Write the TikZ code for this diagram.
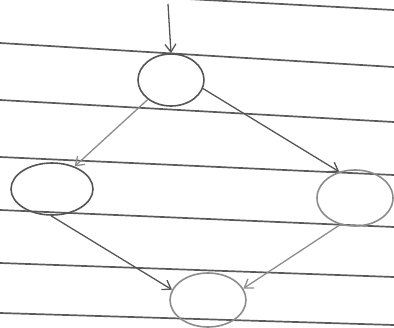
\documentclass[tikz,border=0pt]{standalone}
\usepackage{xcolor}
\usepackage{tikz}
\usetikzlibrary{positioning,arrows.meta,shapes.geometric}
\definecolor{pencil}{RGB}{85,85,85}
\definecolor{faint}{RGB}{140,140,140}
\definecolor{ruling}{RGB}{90,90,90}

\begin{document}
\begin{tikzpicture}[x=1pt, y=-1pt,
    state/.style={draw=pencil, ellipse, line width=1.6pt, inner sep=0pt},
    flow/.style={draw=faint, line width=1.3pt, -{Straight Barb[length=8pt,width=11pt]}}]
  \clip (0,0) rectangle (394,327);
  % ruled paper
  \foreach \l/\r in {-11/10, 43/67, 100/122, 157/175, 210/227, 263/277, 313/325}
    \draw[ruling, line width=1.7pt] (0,\l) -- (394,\r);

  \node[state, minimum width=66pt, minimum height=52pt] (top)    at (171,80)  {};
  \node[state, minimum width=82pt, minimum height=52pt] (left)   at (52,189)  {};
  \node[state, draw=faint, minimum width=76pt, minimum height=56pt] (right)  at (355,198) {};
  \node[state, draw=faint, minimum width=76pt, minimum height=54pt] (bottom) at (208,300) {};

  \coordinate (start) at (168,4);
  \draw[flow, draw=pencil] (start) -- (top.north);
  \draw[flow] (top.220) -- (left.45);
  \draw[flow, draw=pencil] (top.-15) -- (right.121);
  \draw[flow, draw=pencil] (left.268) -- (bottom.164);
  \draw[flow] (right.241) -- (bottom.18);
\end{tikzpicture}
\end{document}
